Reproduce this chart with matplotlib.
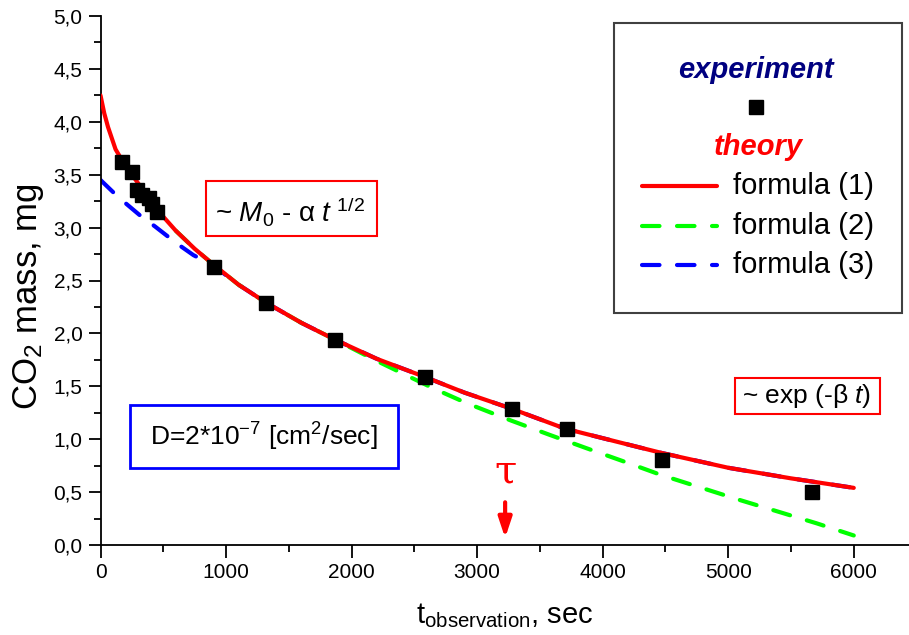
import numpy as np
import matplotlib
matplotlib.use("Agg")
import matplotlib.pyplot as plt
from matplotlib.patches import Rectangle
from matplotlib.lines import Line2D

plt.rcParams['font.family'] = ['Liberation Sans', 'DejaVu Sans']
plt.rcParams['mathtext.fontset'] = 'custom'
plt.rcParams['mathtext.rm'] = 'Liberation Sans'
plt.rcParams['mathtext.it'] = 'Liberation Sans:italic'
plt.rcParams['mathtext.bf'] = 'Liberation Sans:bold'

# experiment
t_exp = [173, 247, 290, 330, 383, 410, 448, 907, 1321, 1867, 2584, 3276, 3715, 4470, 5666]
m_exp = [3.62, 3.53, 3.36, 3.31, 3.28, 3.22, 3.15, 2.63, 2.29, 1.94, 1.59, 1.29, 1.10, 0.80, 0.50]

# formula (1)
t_f1 = [0, 30, 60, 120, 175, 250, 330, 450, 600, 750, 900, 1100, 1320, 1600, 1870,
        2200, 2580, 2900, 3270, 3700, 4100, 4470, 5000, 5500, 6000]
m_f1 = [4.25, 4.08, 3.95, 3.74, 3.63, 3.50, 3.37, 3.17, 2.97, 2.80, 2.65, 2.46, 2.29, 2.10, 1.94,
        1.76, 1.59, 1.44, 1.29, 1.10, 0.98, 0.87, 0.73, 0.63, 0.54]

# formula (2)
t_f2 = [600, 750, 900, 1100, 1320, 1600, 1870, 2200, 2652, 2918, 3262, 3580, 3873, 4191,
        4470, 5093, 5704, 6000]
m_f2 = [2.97, 2.80, 2.65, 2.46, 2.29, 2.10, 1.94, 1.74, 1.48, 1.34, 1.18, 1.04, 0.914, 0.78,
        0.66, 0.425, 0.205, 0.09]

# formula (3)
t_f3 = [0, 140, 310, 435, 608, 740, 900, 1100, 1320, 1600, 1870, 2200, 2580, 2900, 3270,
        3700, 4100, 4470, 5000, 5500, 6000]
m_f3 = [3.45, 3.29, 3.12, 3.01, 2.85, 2.74, 2.64, 2.46, 2.29, 2.10, 1.94, 1.76, 1.59, 1.44,
        1.29, 1.10, 0.98, 0.87, 0.73, 0.63, 0.54]

tau = 3223

x_ticks = [0, 1000, 2000, 3000, 4000, 5000, 6000]
y_ticks = [0.0, 0.5, 1.0, 1.5, 2.0, 2.5, 3.0, 3.5, 4.0, 4.5, 5.0]
y_labels = ['0,0', '0,5', '1,0', '1,5', '2,0', '2,5', '3,0', '3,5', '4,0', '4,5', '5,0']

W, H = 909, 635
fig = plt.figure(figsize=(W / 100, H / 100), dpi=100)
ax = fig.add_axes([100.5 / W, 90 / H, 808.5 / W, 529 / H])


def px(x, y):
    return (x / W, 1 - y / H)


dash = (0, (4.2, 4.2))
ax.plot(t_f3, m_f3, color='#0000ff', lw=3, linestyle=dash, dash_capstyle='round', zorder=2)
ax.plot(t_f2, m_f2, color='#00ff00', lw=3, linestyle=dash, dash_capstyle='round', zorder=2)
ax.plot(t_f1, m_f1, color='#ff0000', lw=3, solid_capstyle='round', zorder=3)
ax.plot(t_exp, m_exp, 's', color='black', ms=9.5, zorder=4)

ax.set_xlim(0, 6440)
ax.set_ylim(0, 5)
ax.set_xticks(x_ticks)
ax.set_xticks(np.arange(500, 6500, 1000), minor=True)
ax.set_yticks(y_ticks)
ax.set_yticklabels(y_labels)
ax.set_yticks(np.arange(0.25, 5.0, 0.5), minor=True)
for s in ['top', 'right']:
    ax.spines[s].set_visible(False)
for s in ['left', 'bottom']:
    ax.spines[s].set_linewidth(1.3)
ax.tick_params(which='major', direction='out', length=9, width=1.3, labelsize=15, pad=4)
ax.tick_params(which='minor', direction='out', length=5, width=1.3)

ax.set_xlabel(r'$\mathregular{t_{observation}}$, sec', fontsize=21, labelpad=14)
ax.set_ylabel(r'CO$\mathregular{_2}$ mass, mg', fontsize=25)
ax.yaxis.set_label_coords(-0.068, 0.47)

# tau marker
ax.text(tau, 0.69, 'τ', color='#ff0000', fontsize=29, family='DejaVu Serif',
        ha='center', va='center')
ax.annotate('', xy=(tau, 0.04), xytext=(tau, 0.43),
            arrowprops=dict(arrowstyle='-|>,head_length=1.2,head_width=0.4',
                            color='#ff0000', lw=3))

# annotation boxes
fig.patches.append(Rectangle(px(206, 236), 171 / W, 55 / H, transform=fig.transFigure,
                             fill=False, edgecolor='#ff0000', lw=1.5))
fig.text(*px(215, 222), r'~ $M_{\mathit{0}}$ - α $t^{\ 1/2}$', fontsize=20, va='baseline')

fig.patches.append(Rectangle(px(130, 468), 268 / W, 63 / H, transform=fig.transFigure,
                             fill=False, edgecolor='#0000ff', lw=2))
fig.text(*px(150, 446), r'D=2*10$^{\mathregular{-7}}$ [cm$^{\mathregular{2}}$/sec]',
         fontsize=19, va='baseline')

fig.patches.append(Rectangle(px(735, 414), 145 / W, 36 / H, transform=fig.transFigure,
                             fill=False, edgecolor='#ff0000', lw=1.5))
fig.text(*px(807, 396), r'~ exp (-β $t$)', fontsize=19, ha='center', va='center')

# legend
fig.patches.append(Rectangle(px(614, 313), 288 / W, 290 / H, transform=fig.transFigure,
                             fill=False, edgecolor='#404040', lw=1.5))
fig.text(*px(756, 70), 'experiment', color='#000080', fontsize=21, weight='bold',
         style='italic', ha='center', va='center')
fig.lines.append(Line2D([756 / W], [1 - 107 / H], marker='s', color='black', ms=9.5,
                        transform=fig.transFigure))
fig.text(*px(758, 147), 'theory', color='#ff0000', fontsize=21, weight='bold',
         style='italic', ha='center', va='center')
legend_rows = [('formula (1)', '#ff0000', '-', 186),
               ('formula (2)', '#00ff00', dash, 226),
               ('formula (3)', '#0000ff', dash, 265)]
for label, col, ls, yy in legend_rows:
    fig.lines.append(Line2D([642 / W, 717 / W], [1 - yy / H, 1 - yy / H], color=col, lw=3,
                            linestyle=ls, dash_capstyle='round', solid_capstyle='round',
                            transform=fig.transFigure))
    fig.text(*px(733, yy), label, fontsize=21, va='center')

fig.savefig('out.png', dpi=100)
